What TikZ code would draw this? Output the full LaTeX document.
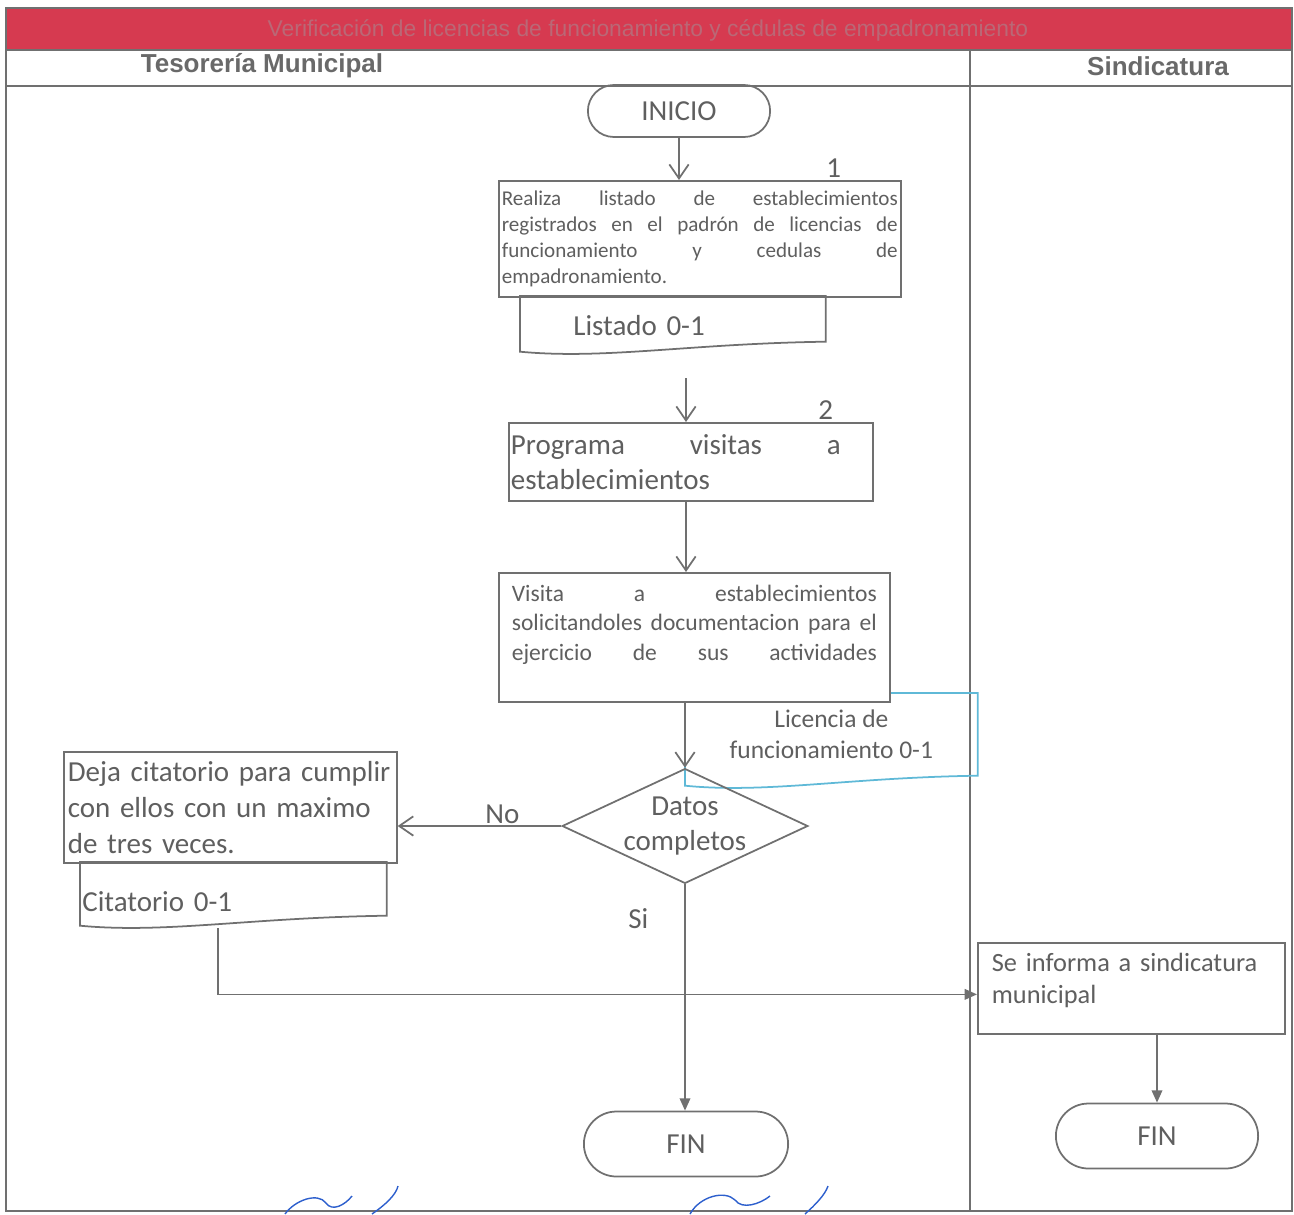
\documentclass[tikz,border=0pt]{standalone}
\usepackage{fontspec}
\setmainfont{Carlito}
\newfontfamily\arialfont{Liberation Sans}
\usetikzlibrary{shapes.geometric,shapes.misc,positioning,arrows.meta,calc}
\definecolor{linegray}{RGB}{112,112,112}
\definecolor{txtgray}{RGB}{95,95,95}
\definecolor{headgray}{RGB}{105,105,105}
\definecolor{bandred}{RGB}{214,58,80}
\definecolor{bandtext}{RGB}{186,104,118}
\definecolor{docblue}{RGB}{95,185,215}
\definecolor{signblue}{RGB}{45,95,205}
\tikzset{>=stealth}
\tikzset{
  linea/.style={draw=linegray, line width=1pt},
  flecha/.style={linea, -{Straight Barb[length=8pt,width=11pt]}},
  flechab/.style={linea, -{Triangle[length=7pt,width=6pt]}},
  caja/.style={linea, rectangle, fill=white, align=left, inner ysep=0pt, anchor=north west},
  terminal/.style={linea, rounded rectangle, font=\fontsize{16.5}{20}\selectfont},
  decision/.style={linea, diamond, aspect=2.14, inner sep=0pt, align=center,
    minimum width=4.8cm, minimum height=2.24cm, font=\fontsize{16.5}{19.5}\selectfont},
  doc/.style={rectangle, inner sep=0pt, anchor=north west},
  num/.style={font=\fontsize{16.5}{20}\selectfont, inner sep=0pt},
  carril/.style={font=\arialfont\bfseries\fontsize{14.8}{17}\selectfont, text=headgray},
  every node/.style={text=txtgray}
}
% contorno de documento con borde ondulado
\newcommand{\documento}[2][linegray]{%
  \draw[line width=1pt, draw=#1] (#2.north west) -- (#2.north east) -- (#2.south east)
    .. controls ($(#2.south east)!0.45!(#2.south west)+(0,2)$)
    and ($(#2.south east)!0.72!(#2.south west)+(0,18)$) .. ($(#2.south west)+(0,10)$) -- cycle;}

\begin{document}
\begin{tikzpicture}[x=0.02cm, y=-0.02cm]
\useasboundingbox (0,0) rectangle (1294,1214);

% encabezado
\fill[bandred] (6,8) rectangle (1292,50);
\node[font=\arialfont\fontsize{13}{15}\selectfont, text=bandtext] (titulo) at (648,30)
  {Verificación de licencias de funcionamiento y cédulas de empadronamiento};
\draw[linea, line width=0.8pt] (6,8) rectangle (1292,1211);
\draw[linea, line width=0.8pt] (6,50) -- (1292,50);
\draw[linea, line width=0.8pt] (6,86) -- (1292,86);
\draw[linea, line width=0.8pt] (970,50) -- (970,1211);
\node[carril] (tesoreria) at (262,66) {Tesorería Municipal};
\node[carril] (sindicatura) at (1158,66) {Sindicatura};

% nodos
\node[terminal, minimum width=3.88cm, minimum height=1.04cm] (inicio) at (679,111) {INICIO};

\node[caja, minimum width=8.04cm, minimum height=2.32cm, text width=7.92cm, inner xsep=0.06cm,
  font=\fontsize{12}{14.8}\selectfont] (realiza) at (498,180)
  {Realiza\hfill listado\hfill de\hfill establecimientos\\
   registrados\hfill en\hfill el\hfill padrón\hfill de\hfill licencias\hfill de\\
   funcionamiento\hfill y\hfill cedulas\hfill de\\
   empadronamiento.};
\node[num, above=1pt of realiza.north east, xshift=-1.36cm] (n1) {1};

\node[doc, text width=3.98cm, inner xsep=1.06cm, text height=0.78cm, text depth=0.12cm,
  font=\fontsize{16.5}{20}\selectfont] (listado) at (520,296) {Listado 0-1};
\documento{listado}
\coordinate (c1) at (686,378);

\node[caja, minimum width=7.28cm, minimum height=1.56cm, text width=7.2cm, inner xsep=0.04cm,
  font=\fontsize{16.5}{19.9}\selectfont] (programa) at (508,422)
  {Programa\hfill visitas\hfill a\kern0.6cm\mbox{}\\establecimientos};
\node[num, above=1pt of programa.north east, xshift=-0.96cm] (n2) {2};

\node[doc, minimum width=5.84cm, minimum height=1.64cm, align=center,
  font=\fontsize{14.5}{17.6}\selectfont] (licencia) at (685,693)
  {Licencia de\\funcionamiento 0-1};
\documento[docblue]{licencia}

\node[caja, minimum width=7.82cm, minimum height=2.58cm, text width=7.3cm, inner xsep=0.26cm,
  font=\fontsize{13.4}{16.8}\selectfont] (visita) at (498,572)
  {Visita\hfill a\hfill establecimientos\\
   solicitandoles\hfill documentacion\hfill para\hfill el\\
   ejercicio\hfill de\hfill sus\hfill actividades\\
   \mbox{}};

\node[decision] (datos) at (685,826) {Datos\\completos};

\node[caja, minimum width=6.66cm, minimum height=2.22cm, text width=6.5cm, inner xsep=0.08cm,
  font=\fontsize{16.5}{20.5}\selectfont] (deja) at (63,751)
  {Deja citatorio para cumplir\\con ellos con un maximo\\de tres veces.};
\node[doc, text width=6.04cm, inner xsep=0.04cm, text height=0.98cm, text depth=0.08cm,
  align=left, font=\fontsize{16.5}{20}\selectfont] (citatorio) at (80,862) {Citatorio 0-1};
\documento{citatorio}
\coordinate (c2) at (218,928);

\node[caja, minimum width=6.14cm, minimum height=1.82cm, text width=5.58cm, inner xsep=0.28cm,
  text depth=1.06cm, font=\fontsize{15}{18.6}\selectfont] (informa) at (977,942)
  {Se informa a sindicatura\\municipal};

\node[terminal, minimum width=4.32cm, minimum height=1.3cm] (fin1) at (686,1144) {FIN};
\node[terminal, minimum width=4.28cm, minimum height=1.3cm] (fin2) at (1157,1136) {FIN};

% conectores
\draw[flecha] (inicio) -- (inicio |- realiza.north);
\draw[flecha] (c1) -- (c1 |- programa.north);
\draw[flecha] (c1 |- programa.south) -- (c1 |- visita.north);
\draw[flecha] (visita.south -| datos.north) -- (datos.north);
\draw[flecha] (datos.west) -- (datos.west -| deja.east)
  node[pos=0.36, above, inner sep=1pt, font=\fontsize{16.5}{20}\selectfont] {No};
\draw[flechab] (datos.south) -- (datos.south |- fin1.north)
  node[pos=0.15, left=0.6cm, font=\fontsize{16.5}{20}\selectfont] {Si};
\draw[flechab] (c2) |- ([yshift=-0.12cm]informa.west);
\draw[flechab] (informa.south -| fin2.north) -- (fin2.north);

% firmas
\draw[signblue, line width=0.8pt] (285,1214) .. controls (295,1200) and (318,1192) .. (326,1203)
  .. controls (332,1212) and (345,1205) .. (352,1196);
\draw[signblue, line width=0.8pt] (372,1214) .. controls (385,1205) and (396,1195) .. (398,1186);
\draw[signblue, line width=0.8pt] (690,1214) .. controls (700,1196) and (725,1190) .. (735,1200)
  .. controls (742,1210) and (760,1204) .. (770,1196);
\draw[signblue, line width=0.8pt] (805,1214) .. controls (815,1205) and (825,1195) .. (828,1186);
\end{tikzpicture}
\end{document}
